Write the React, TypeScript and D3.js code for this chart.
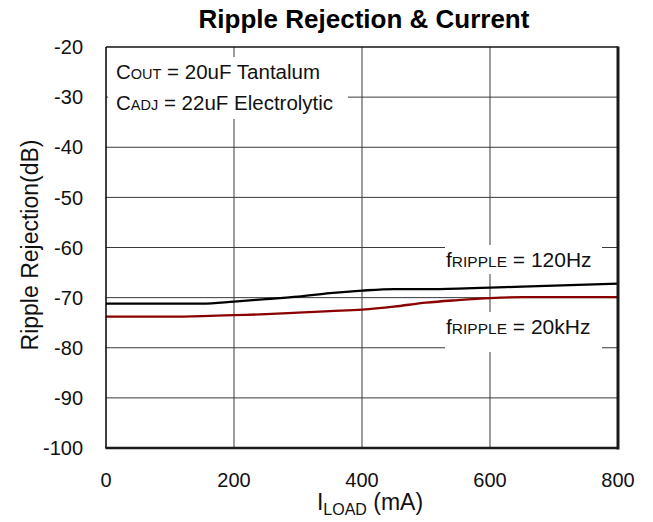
import React from "react";
import * as d3 from "d3";

const loadMA = [0, 100, 150, 200, 250, 300, 350, 400, 450, 500, 550, 600, 650, 700, 750, 800];
const rej120Hz = [-71.2, -71.2, -71.2, -70.8, -70.3, -69.8, -69.1, -68.6, -68.3, -68.3, -68.2, -68.0, -67.8, -67.6, -67.4, -67.2];
const rej20kHz = [-73.8, -73.8, -73.7, -73.5, -73.3, -73.0, -72.7, -72.4, -71.8, -71.0, -70.5, -70.1, -69.9, -69.9, -69.9, -69.9];
const xTicks = [0, 200, 400, 600, 800];
const yTicks = [-20, -30, -40, -50, -60, -70, -80, -90, -100];

const W = 653;
const H = 522;
const M = { left: 106, right: 618, top: 47, bottom: 448 };
const FONT = "'Liberation Sans', Arial, sans-serif";

export default function App() {
  const x = d3.scaleLinear().domain([0, 800]).range([M.left, M.right]);
  const y = d3.scaleLinear().domain([-100, -20]).range([M.bottom, M.top]);
  const line = d3
    .line<number>()
    .x((_, i) => x(loadMA[i]))
    .y((d) => y(d))
    .curve(d3.curveMonotoneX);

  return (
    <svg width={W} height={H} style={{ position: "absolute", left: 0, top: 0, background: "#fff" }} fontFamily={FONT}>
      <rect x={0} y={0} width={W} height={H} fill="#fff" />
      {/* grid */}
      {yTicks.map((t) => (
        <line key={"gy" + t} x1={M.left} x2={M.right} y1={y(t)} y2={y(t)} stroke="#3a3a3a" strokeWidth={1} />
      ))}
      {xTicks.map((t) => (
        <line key={"gx" + t} x1={x(t)} x2={x(t)} y1={M.top} y2={M.bottom} stroke="#3a3a3a" strokeWidth={1} />
      ))}
      {/* annotation boxes */}
      <rect x={108} y={57} width={240} height={62} fill="#fff" />
      <rect x={445} y={245} width={157} height={29} fill="#fff" />
      <rect x={445} y={312} width={157} height={40} fill="#fff" />
      {/* curves */}
      <path d={line(rej20kHz) || ""} fill="none" stroke="#8b0000" strokeWidth={2.3} />
      <path d={line(rej120Hz) || ""} fill="none" stroke="#000" strokeWidth={2.3} />
      {/* frame */}
      <line x1={M.left} x2={M.right} y1={M.top} y2={M.top} stroke="#000" strokeWidth={1.2} />
      <line x1={M.left} x2={M.left} y1={M.top} y2={M.bottom} stroke="#000" strokeWidth={1.2} />
      <line x1={M.right} x2={M.right} y1={M.top - 0.6} y2={M.bottom + 1.5} stroke="#1a1a1a" strokeWidth={3} />
      <line x1={M.left - 0.6} x2={M.right} y1={M.bottom} y2={M.bottom} stroke="#1a1a1a" strokeWidth={2.4} />
      {/* y ticks */}
      {yTicks.map((t) => (
        <text key={"yt" + t} x={83} y={y(t)} dy="0.36em" textAnchor="end" fontSize={20} fill="#111">
          {t}
        </text>
      ))}
      {xTicks.map((t) => (
        <text key={"xt" + t} x={x(t)} y={487} textAnchor="middle" fontSize={20} fill="#111">
          {t}
        </text>
      ))}
      {/* titles */}
      <text x={364} y={28} textAnchor="middle" fontSize={26} fontWeight="bold" fill="#000">
        Ripple Rejection &amp; Current
      </text>
      <text transform={`translate(38,245) rotate(-90)`} textAnchor="middle" fontSize={23} fill="#111">
        Ripple Rejection(dB)
      </text>
      <text x={370} y={510} textAnchor="middle" fontSize={23} fill="#111">
        I<tspan fontSize={16} dy={5}>LOAD</tspan>
        <tspan dy={-5}> (mA)</tspan>
      </text>
      {/* annotations */}
      <text x={116} y={79} fontSize={20.5} fill="#111">
        C<tspan fontSize={14.5}>OUT</tspan> = 20uF Tantalum
      </text>
      <text x={116} y={110} fontSize={20.5} fill="#111">
        C<tspan fontSize={14.5}>ADJ</tspan> = 22uF Electrolytic
      </text>
      <text x={446} y={267} fontSize={21} fill="#111">
        f<tspan fontSize={15.5}>RIPPLE</tspan> = 120Hz
      </text>
      <text x={446} y={334} fontSize={21} fill="#111">
        f<tspan fontSize={15.5}>RIPPLE</tspan> = 20kHz
      </text>
    </svg>
  );
}
